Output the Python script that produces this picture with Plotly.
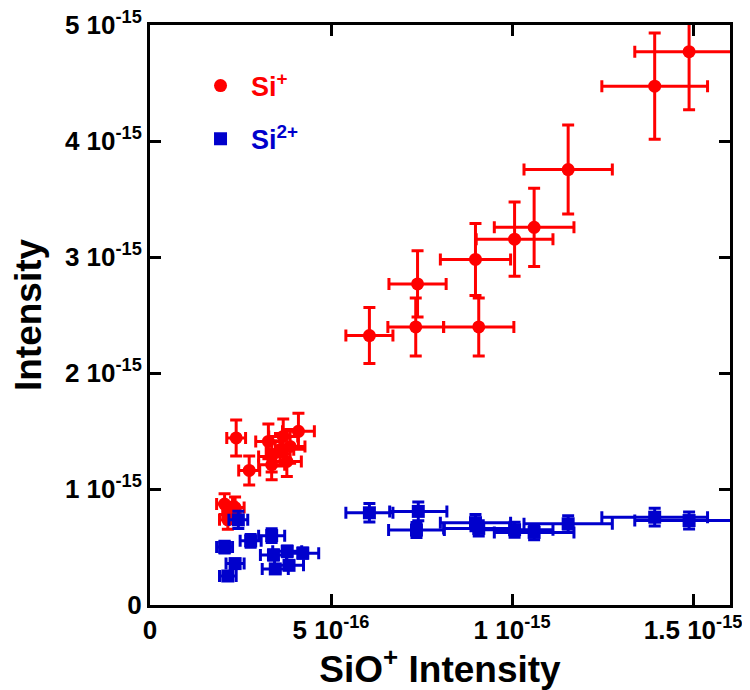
import plotly.graph_objects as go

# Values in units of 1e-15
si1_x = [1.489, 1.394, 1.155, 1.061, 1.007, 0.899, 0.739, 0.734, 0.908, 0.606,
         0.238, 0.274, 0.327, 0.410, 0.368, 0.336, 0.359, 0.387, 0.336, 0.378,
         0.206, 0.235, 0.215, 0.225]
si1_y = [4.77, 4.473, 3.754, 3.256, 3.154, 2.979, 2.768, 2.397, 2.397, 2.323,
         1.440, 1.160, 1.410, 1.497, 1.453, 1.281, 1.338, 1.367, 1.209, 1.238,
         0.870, 0.840, 0.734, 0.800]
si1_xerr = [0.150, 0.146, 0.122, 0.110, 0.106, 0.097, 0.079, 0.077, 0.097, 0.065,
            0.026, 0.029, 0.035, 0.044, 0.040, 0.036, 0.038, 0.041, 0.036, 0.040,
            0.022, 0.025, 0.023, 0.024]
si1_yerr = [0.50, 0.458, 0.384, 0.337, 0.320, 0.310, 0.285, 0.250, 0.250, 0.242,
            0.155, 0.125, 0.150, 0.155, 0.150, 0.135, 0.140, 0.145, 0.130, 0.130,
            0.090, 0.090, 0.080, 0.085]

si2_x = [0.606, 0.741, 0.736, 0.899, 0.908, 1.007, 1.061, 1.155, 1.394, 1.489,
         0.244, 0.206, 0.278, 0.336, 0.235, 0.215, 0.379, 0.422, 0.346, 0.384, 0.341]
si2_y = [0.795, 0.807, 0.646, 0.710, 0.660, 0.649, 0.626, 0.700, 0.757, 0.728,
         0.734, 0.499, 0.553, 0.598, 0.357, 0.250, 0.463, 0.447, 0.311, 0.342, 0.432]
si2_xerr = [0.065, 0.079, 0.077, 0.097, 0.097, 0.106, 0.110, 0.122, 0.146, 0.150,
            0.026, 0.022, 0.029, 0.036, 0.025, 0.023, 0.040, 0.044, 0.036, 0.040, 0.036]
si2_yerr = [0.080, 0.080, 0.065, 0.070, 0.066, 0.065, 0.063, 0.070, 0.076, 0.073,
            0.074, 0.050, 0.055, 0.060, 0.036, 0.025, 0.046, 0.045, 0.031, 0.034, 0.043]

x_tickvals = [0, 0.5, 1.0, 1.5]
x_ticktext = ["0", "5 10<sup>-16</sup>", "1 10<sup>-15</sup>", "1.5 10<sup>-15</sup>"]
y_tickvals = [0, 1, 2, 3, 4, 5]
y_ticktext = ["0", "1 10<sup>-15</sup>", "2 10<sup>-15</sup>", "3 10<sup>-15</sup>",
              "4 10<sup>-15</sup>", "5 10<sup>-15</sup>"]

RED = "#FF0000"
BLUE = "#0000CC"
FONT = "Liberation Sans, Arial, sans-serif"

fig = go.Figure()
fig.add_trace(go.Scatter(
    x=si1_x, y=si1_y, mode="markers", name="<span style='color:#FF0000'>Si<sup>+</sup></span>",
    marker=dict(symbol="circle", size=13, color=RED),
    error_x=dict(type="data", array=si1_xerr, color=RED, thickness=3, width=6),
    error_y=dict(type="data", array=si1_yerr, color=RED, thickness=3, width=6),
    legendgroup="a",
))
fig.add_trace(go.Scatter(
    x=si2_x, y=si2_y, mode="markers", name="<span style='color:#0000CC'>Si<sup>2+</sup></span>",
    marker=dict(symbol="square", size=13, color=BLUE),
    error_x=dict(type="data", array=si2_xerr, color=BLUE, thickness=3, width=6),
    error_y=dict(type="data", array=si2_yerr, color=BLUE, thickness=3, width=6),
    legendgroup="b",
))

axis_common = dict(
    showline=True, linecolor="black", linewidth=3, mirror="ticks",
    ticks="inside", ticklen=11, tickwidth=3, tickcolor="black",
    showgrid=False, zeroline=False, ticklabeloverflow="allow", automargin=False,
    tickfont=dict(family=FONT, size=26, color="black", weight="bold"),
)

# page body has an 8px default margin; figure size/margins compensate for it
fig.update_layout(
    width=742, height=682,
    margin=dict(l=142, r=20, t=17, b=85, autoexpand=False),
    paper_bgcolor="white", plot_bgcolor="white",
    xaxis=dict(range=[0, 1.602], tickvals=x_tickvals, ticktext=x_ticktext,
               title=dict(text="SiO<sup>+</sup> Intensity", standoff=2,
                          font=dict(family=FONT, size=37, color="black", weight="bold")),
               **axis_common),
    yaxis=dict(range=[0, 5.0], tickvals=y_tickvals, ticktext=y_ticktext,
               title=dict(text="Intensity", standoff=14,
                          font=dict(family=FONT, size=37, color="black", weight="bold")),
               **axis_common),
    showlegend=True,
    legend=dict(x=0.069, y=0.937, xanchor="left", yanchor="top",
                bgcolor="rgba(0,0,0,0)", tracegroupgap=15, itemwidth=51,
                font=dict(family=FONT, size=27, weight="bold")),
)

fig.write_html("out.html")
